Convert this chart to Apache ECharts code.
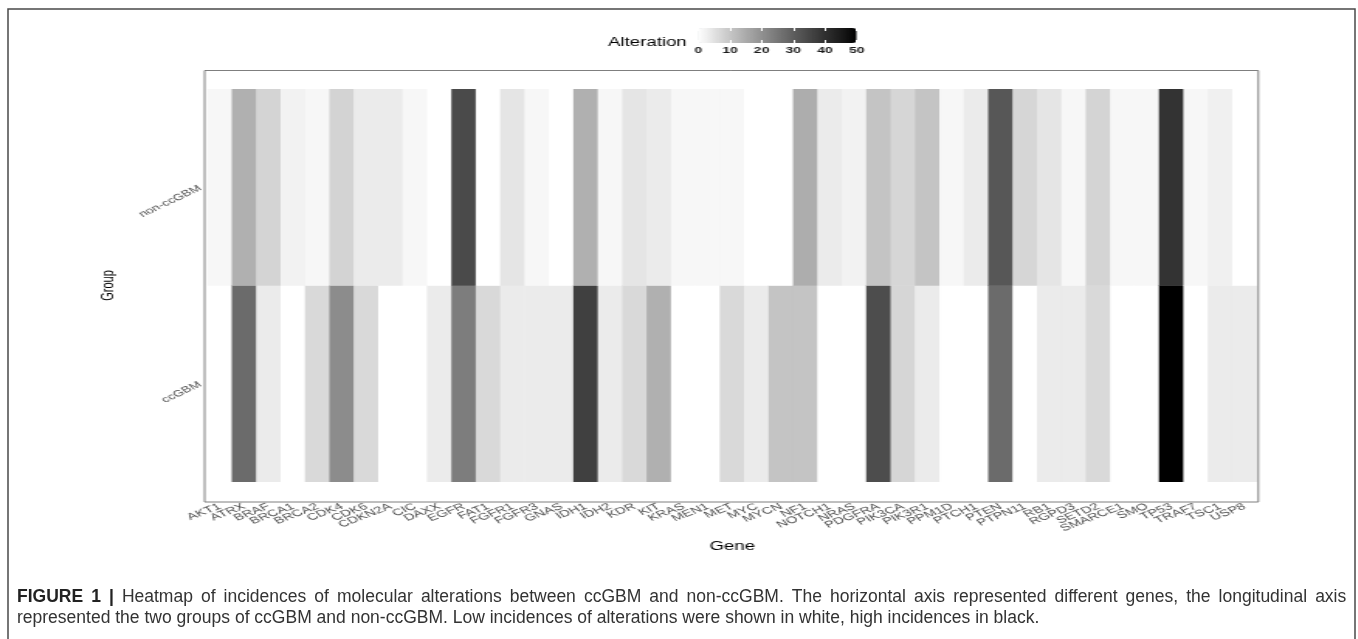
<!DOCTYPE html>
<html>
<head>
<meta charset="utf-8">
<script src="https://cdn.jsdelivr.net/npm/echarts@6/dist/echarts.min.js"></script>
<style>
  html, body { margin: 0; padding: 0; background: #ffffff; }
  #wrap { position: relative; width: 1358px; height: 639px; overflow: hidden; }
  #chart { position: absolute; left: 0; top: 0; width: 876px; height: 639px;
           transform: scaleX(1.55); transform-origin: 0 0; }
  #caption { position: absolute; left: 0; top: 0; width: 1358px; height: 639px; pointer-events: none; }
</style>
</head>
<body>
<div id="wrap">
  <div id="chart"></div>
  <div id="caption"></div>
</div>
<script>
// ---------------- data ----------------
const genes = ['AKT1','ATRX','BRAF','BRCA1','BRCA2','CDK4','CDK6','CDKN2A','CIC','DAXX',
  'EGFR','FAT1','FGFR1','FGFR3','GNAS','IDH1','IDH2','KDR','KIT','KRAS','MEN1','MET',
  'MYC','MYCN','NF1','NOTCH1','NRAS','PDGFRA','PIK3CA','PIK3R1','PPM1D','PTCH1','PTEN',
  'PTPN11','RB1','RGPD3','SETD2','SMARCE1','SMO','TP53','TRAF7','TSC1','USP8'];
const groups = ['ccGBM', 'non-ccGBM'];
const ccGBM = [0, 27.4, 3.5, 0, 6.6, 21.0, 6.6, 0, 0, 3.5,
  23.8, 6.6, 3.5, 3.5, 3.5, 36.5, 3.5, 6.6, 14.1, 0, 0, 6.6,
  3.5, 10.4, 10.4, 0, 0, 33.7, 7.1, 3.5, 0, 0, 27.4,
  0, 3.5, 3.5, 6.6, 0, 0, 50.0, 0, 3.5, 3.5];
const nonccGBM = [1.4, 14.1, 7.5, 2.2, 1.4, 7.7, 3.5, 3.5, 1.4, 0,
  34.3, 0, 4.5, 1.4, 0, 14.1, 1.4, 4.5, 3.5, 1.4, 1.4, 1.4,
  0, 0, 14.6, 3.5, 2.2, 10.4, 7.1, 10.4, 1.4, 3.5, 31.5,
  7.1, 4.5, 1.4, 7.5, 1.4, 1.4, 39.3, 1.4, 2.6, 0];
const legendTicks = [0, 10, 20, 30, 40, 50];
const legendMin = 0, legendMax = 50;
// white -> black gradient (perceptual, as in ggplot)
const grayStops = ['#ffffff','#e2e2e2','#c6c6c6','#ababab','#919191','#777777',
  '#5e5e5e','#474747','#303030','#1b1b1b','#000000'];
const captionBold = 'FIGURE 1 |';
const captionLine1 = ' Heatmap of incidences of molecular alterations between ccGBM and non-ccGBM. The horizontal axis represented different genes, the longitudinal axis';
const captionLine2 = 'represented the two groups of ccGBM and non-ccGBM. Low incidences of alterations were shown in white, high incidences in black.';

// ---------------- chart ----------------
const FONT = 'Liberation Sans, Arial, sans-serif';
const heatData = [];
genes.forEach((g, i) => {
  heatData.push([i, 0, ccGBM[i]]);
  heatData.push([i, 1, nonccGBM[i]]);
});

const chart = echarts.init(document.getElementById('chart'), null, { renderer: 'canvas' });
chart.setOption({
  animation: false,
  textStyle: { fontFamily: FONT },
  grid: [
    { left: 134, top: 89.3, width: 676.9, height: 392.4 },
    { left: 450.5, top: 28, width: 102.2, height: 15 }
  ],
  xAxis: [
    {
      type: 'category', gridIndex: 0, data: genes, offset: 20,
      axisLine: { show: false },
      axisTick: { alignWithLabel: true, length: 3, lineStyle: { color: '#333333' } },
      axisLabel: { interval: 0, rotate: 31, fontSize: 9.5, color: '#4d4d4d', margin: 4, fontFamily: FONT },
      splitLine: { show: false },
      name: 'Gene', nameLocation: 'middle', nameGap: 39,
      nameTextStyle: { fontSize: 12, color: '#000000', fontFamily: FONT }
    },
    {
      type: 'value', gridIndex: 1, min: legendMin, max: legendMax, interval: 10, position: 'bottom',
      axisLine: { show: false },
      axisTick: { show: true, inside: true, length: 3, lineStyle: { color: '#ffffff' } },
      axisLabel: { fontSize: 9, fontWeight: 'bold', color: '#1a1a1a', margin: 3.5, fontFamily: FONT,
        customValues: legendTicks },
      splitLine: { show: false }, z: 10
    },
    {
      type: 'value', gridIndex: 1, min: legendMin, max: legendMax, interval: 10, position: 'top',
      axisLine: { show: false },
      axisTick: { show: true, inside: true, length: 3, lineStyle: { color: '#ffffff' } },
      axisLabel: { show: false },
      splitLine: { show: false }, z: 10
    }
  ],
  yAxis: [
    {
      type: 'category', gridIndex: 0, data: groups, offset: 2,
      axisLine: { show: false },
      axisTick: { alignWithLabel: true, length: 3, lineStyle: { color: '#333333' } },
      axisLabel: { rotate: 36, fontSize: 9, color: '#4d4d4d', margin: 3, fontFamily: FONT },
      splitLine: { show: false },
      name: 'Group', nameLocation: 'middle', nameRotate: 90, nameGap: 57,
      nameTextStyle: { fontSize: 11, color: '#000000', fontFamily: FONT }
    },
    { type: 'category', gridIndex: 1, show: false, data: [''] }
  ],
  visualMap: {
    type: 'continuous', seriesIndex: 0, min: legendMin, max: legendMax,
    orient: 'horizontal', left: 450.5, top: 28, itemWidth: 15, itemHeight: 102.2,
    padding: 0, calculable: false, hoverLink: false,
    inRange: { color: grayStops }
  },
  series: [{
    type: 'heatmap', xAxisIndex: 0, yAxisIndex: 0, data: heatData,
    itemStyle: { borderWidth: 0 },
    emphasis: { disabled: true }
  }],
  graphic: [
    { type: 'rect', silent: true, z: 10,
      shape: { x: 132, y: 70.5, width: 679.8, height: 431.5 },
      style: { fill: null, stroke: '#7f7f7f', lineWidth: 1 } },
    { type: 'text', silent: true,
      style: { x: 443, y: 42.7, text: 'Alteration', fontSize: 12, fontFamily: FONT,
        fill: '#000000', align: 'right', verticalAlign: 'middle' } }
  ]
});

// ---------------- caption & frame ----------------
// first caption line is justified in the figure: widen its word spaces
function justify(str, tag) {
  return str.split(' ').map(w => w ? '{' + tag + '|' + w + '}' : '').join('{sp| }');
}
const line1Rich = justify(captionBold, 'b') + justify(captionLine1, 'n');
const capFont = 17.5;
const cap = echarts.init(document.getElementById('caption'), null, { renderer: 'canvas' });
cap.setOption({
  animation: false,
  graphic: [
    { type: 'rect', silent: true,
      shape: { x: 8, y: 9, width: 1347, height: 700 },
      style: { fill: null, stroke: '#4a4a4a', lineWidth: 1.5 } },
    { type: 'text', silent: true,
      style: { x: 17, y: 597, text: line1Rich,
        fontSize: capFont, fontFamily: FONT, fill: '#333333', verticalAlign: 'middle', align: 'left',
        rich: {
          b: { fontSize: capFont, fontFamily: FONT, fontWeight: 'bold', fill: '#222222' },
          n: { fontSize: capFont, fontFamily: FONT, fill: '#333333' },
          sp: { fontSize: capFont, fontFamily: FONT, fill: '#333333', width: 8.05 }
        } } },
    { type: 'text', silent: true,
      style: { x: 17, y: 618, text: captionLine2, fontSize: capFont, fontFamily: FONT,
        fill: '#333333', verticalAlign: 'middle', align: 'left' } }
  ]
});
</script>
</body>
</html>
